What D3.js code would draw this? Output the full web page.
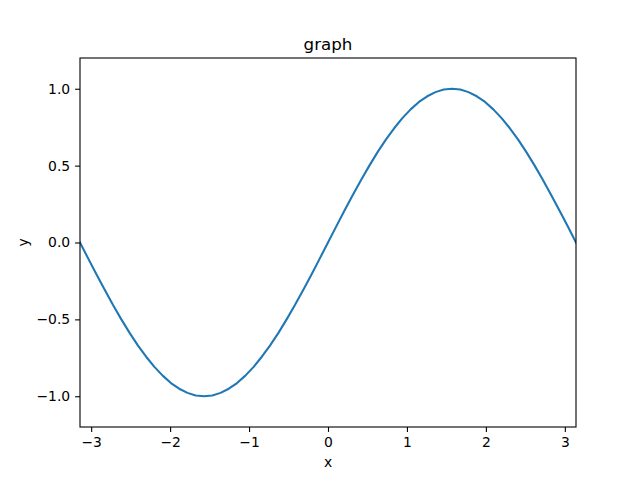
<!DOCTYPE html>
<html>
<head>
<meta charset="utf-8">
<script src="https://cdn.jsdelivr.net/npm/d3@7"></script>
<style>
  body { margin: 0; background: #fff; }
  text { font-family: "DejaVu Sans", sans-serif; }
</style>
</head>
<body>
<svg id="chart"></svg>
<script>
// points
const xValues = [-3.142, -3.037, -2.932, -2.827, -2.723, -2.618, -2.513, -2.409, -2.304, -2.199, -2.094,
  -1.990, -1.885, -1.780, -1.676, -1.571, -1.466, -1.361, -1.257, -1.152, -1.047,
  -0.942, -0.838, -0.733, -0.628, -0.524, -0.419, -0.314, -0.209, -0.105, 0,
  0.105, 0.209, 0.314, 0.419, 0.524, 0.628, 0.733, 0.838, 0.942, 1.047,
  1.152, 1.257, 1.361, 1.466, 1.571, 1.676, 1.780, 1.885, 1.990, 2.094,
  2.199, 2.304, 2.409, 2.513, 2.618, 2.723, 2.827, 2.932, 3.037, 3.142];
const yValues = [0, -0.105, -0.208, -0.309, -0.407, -0.500, -0.588, -0.669, -0.743, -0.809, -0.866,
  -0.914, -0.951, -0.978, -0.995, -1.000, -0.995, -0.978, -0.951, -0.914, -0.866,
  -0.809, -0.743, -0.669, -0.588, -0.500, -0.407, -0.309, -0.208, -0.105, 0,
  0.105, 0.208, 0.309, 0.407, 0.500, 0.588, 0.669, 0.743, 0.809, 0.866,
  0.914, 0.951, 0.978, 0.995, 1.000, 0.995, 0.978, 0.951, 0.914, 0.866,
  0.809, 0.743, 0.669, 0.588, 0.500, 0.407, 0.309, 0.208, 0.105, 0];
const xTicks = [-3, -2, -1, 0, 1, 2, 3];
const yTicks = [-1.0, -0.5, 0.0, 0.5, 1.0];
const xDomain = [-3.14159, 3.14159];
const yDomain = [-1.2, 1.2];

const svgWidth = 640, svgHeight = 480;
const margin = { top: 58, right: 64, bottom: 53, left: 80 };
const width = svgWidth - margin.left - margin.right;
const height = svgHeight - margin.top - margin.bottom;

const svg = d3.select('#chart').attr('width', svgWidth).attr('height', svgHeight);
const g = svg.append('g').attr('transform', 'translate(' + margin.left + ',' + margin.top + ')');

const x = d3.scaleLinear().domain(xDomain).range([0, width]);
const y = d3.scaleLinear().domain(yDomain).range([height, 0]);

const fmt = (d) => d3.format('.1f')(d).replace('-', '\u2212');

const xAxis = g.append('g')
  .attr('transform', 'translate(0,' + height + ')')
  .call(d3.axisBottom(x).tickValues(xTicks).tickSize(4.9).tickPadding(4.9)
    .tickFormat((d) => String(d).replace('-', '\u2212')));
const yAxis = g.append('g')
  .call(d3.axisLeft(y).tickValues(yTicks).tickSize(4.9).tickPadding(4.9).tickFormat(fmt));

[xAxis, yAxis].forEach((a) => {
  a.select('.domain').remove();
  a.selectAll('text').attr('font-size', 13.9).attr('fill', '#000')
    .style('font-family', '"DejaVu Sans", sans-serif');
  a.selectAll('line').attr('stroke', '#000').attr('stroke-width', 1.1);
});

const data = xValues.map((v, i) => ({ x: v, y: yValues[i] }));

g.append('defs').append('clipPath').attr('id', 'clip')
  .append('rect').attr('width', width).attr('height', height);

g.append('path')
  .datum(data)
  .attr('clip-path', 'url(#clip)')
  .attr('fill', 'none')
  .attr('stroke', '#1f77b4')
  .attr('stroke-width', 2.08)
  .attr('stroke-linejoin', 'round')
  .attr('stroke-linecap', 'square')
  .attr('d', d3.line().x((d) => x(d.x)).y((d) => y(d.y)));

// frame
g.append('rect')
  .attr('width', width).attr('height', height)
  .attr('fill', 'none').attr('stroke', '#000').attr('stroke-width', 1.1);

svg.append('text')
  .attr('x', margin.left + width / 2).attr('y', margin.top - 8)
  .attr('text-anchor', 'middle').attr('font-size', 16.7).text('graph');

svg.append('text')
  .attr('x', margin.left + width / 2).attr('y', 467)
  .attr('text-anchor', 'middle').attr('font-size', 13.9).text('x');

svg.append('text')
  .attr('transform', 'translate(28,' + (margin.top + height / 2) + ') rotate(-90)')
  .attr('text-anchor', 'middle').attr('font-size', 13.9).text('y');
</script>
</body>
</html>
